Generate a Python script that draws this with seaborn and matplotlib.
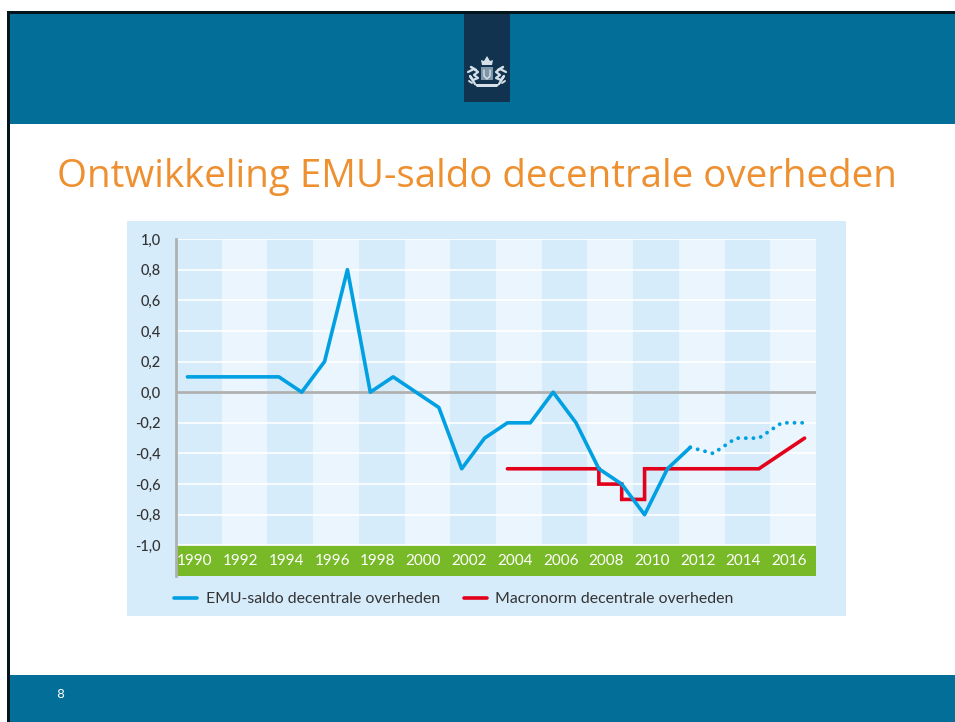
import matplotlib
matplotlib.use("Agg")
import matplotlib.pyplot as plt
from matplotlib.patches import Rectangle, Polygon
import seaborn as sns

years = list(range(1990, 2013))
emu_saldo = [0.1, 0.1, 0.1, 0.1, 0.1, 0.0, 0.2, 0.8, 0.0, 0.1, 0.0, -0.1, -0.5, -0.3,
             -0.2, -0.2, 0.0, -0.2, -0.5, -0.6, -0.8, -0.5, -0.36]
forecast_years = [2012, 2013, 2014, 2015, 2016, 2017]
emu_forecast = [-0.36, -0.4, -0.3, -0.3, -0.2, -0.2]
norm_years = [2004, 2008, 2008, 2009, 2009, 2010, 2010, 2015, 2017]
macronorm = [-0.5, -0.5, -0.6, -0.6, -0.7, -0.7, -0.5, -0.5, -0.3]
y_ticks = [1.0, 0.8, 0.6, 0.4, 0.2, 0.0, -0.2, -0.4, -0.6, -0.8, -1.0]
y_labels = ["1,0", "0,8", "0,6", "0,4", "0,2", "0,0", "-0,2", "-0,4", "-0,6", "-0,8", "-1,0"]
year_labels = list(range(1990, 2018, 2))

blue = "#00A0E2"
red = "#E3001B"

sns.set_style("white")
plt.rcParams["font.family"] = ["Lato", "DejaVu Sans"]

fig = plt.figure(figsize=(9.55, 7.22), dpi=100)

# slide background, in pixel coordinates
bg = fig.add_axes([0, 0, 1, 1])
bg.set_xlim(0, 955)
bg.set_ylim(722, 0)
bg.axis("off")
bg.add_patch(Rectangle((8, 12), 947, 112, color="#036E97", lw=0))
bg.add_patch(Rectangle((8, 675), 947, 47, color="#036E97", lw=0))
bg.add_patch(Rectangle((7, 11), 948, 3, color="#02141c", lw=0))
bg.add_patch(Rectangle((7, 11), 3, 711, color="#02141c", lw=0))
bg.add_patch(Rectangle((464, 14), 46, 88, color="#12334F", lw=0))
bg.add_patch(Rectangle((127, 221), 719, 395, color="#D7ECFB", lw=0))

# crest: crown, shield, a lion on each side, ribbon
crest = "#D5E0E8"
bg.add_patch(Polygon([(482, 65), (481, 60), (484, 61), (487, 56), (490, 61), (493, 60), (492, 65)], color=crest, lw=0))
bg.add_patch(Rectangle((481, 67), 12, 13, color="#7F95A8", lw=0))
bg.plot([484, 484, 487, 490, 490], [70, 76, 79, 76, 70], color=crest, lw=1)
for side in (-1, 1):
    bg.plot([487 + side * 19, 487 + side * 13, 487 + side * 9, 487 + side * 13, 487 + side * 9, 487 + side * 14,
             487 + side * 17, 487 + side * 12],
            [72, 69, 72, 75, 78, 80, 76, 84], color=crest, lw=1.6)
    bg.plot([487 + side * 16, 487 + side * 11], [67, 70], color=crest, lw=1.8)
    bg.plot([487 + side * 18, 487 + side * 15], [81, 83], color=crest, lw=1.4)
bg.add_patch(Polygon([(474, 84), (500, 84), (497, 87), (477, 87)], color=crest, lw=0))

bg.text(56.5, 187, "Ontwikkeling EMU-saldo decentrale overheden", color="#EE9030",
        fontsize=27.7, va="baseline", ha="left", family="Open Sans")
bg.text(60, 695, "8", color="white", fontsize=9, va="center", ha="center", family="DejaVu Sans")

# chart
ax = fig.add_axes([176 / 955, 1 - 576 / 722, 640 / 955, 337 / 722])
ax.patch.set_alpha(0)
ax.set_xlim(1989.5, 2017.5)
ax.set_ylim(-1.2, 1.0)
ax.set_axisbelow("line")

for i, y in enumerate(year_labels):
    ax.axvspan(y - 0.5, y + 1.5, color="#D7ECFB" if i % 2 == 0 else "#EAF5FD", lw=0, zorder=0)
ax.axhspan(-1.2, -1.0, color="#78B928", lw=0, zorder=1)
ax.grid(axis="y", color="white", lw=1.2)
ax.axhline(0, color="#B0B0B0", lw=2, zorder=2)

sns.lineplot(x=years, y=emu_saldo, ax=ax, color=blue, lw=2.6, label="EMU-saldo decentrale overheden",
             solid_joinstyle="round", solid_capstyle="round", zorder=4, errorbar=None, sort=False)
sns.lineplot(x=forecast_years, y=emu_forecast, ax=ax, color=blue, lw=2.8, zorder=4, errorbar=None,
             sort=False, linestyle=(0, (0.01, 1.95)), dash_capstyle="round")
sns.lineplot(x=norm_years, y=macronorm, ax=ax, color=red, lw=2.6, label="Macronorm decentrale overheden",
             solid_joinstyle="miter", solid_capstyle="round", zorder=3, errorbar=None, sort=False,
             estimator=None)

ax.set_yticks(y_ticks)
ax.set_yticklabels(y_labels, color="#333333", fontsize=10.5, fontweight="medium")
ax.set_xticks([y + 0.33 for y in year_labels])
ax.set_xticklabels(year_labels, color="white", fontsize=11)
ax.tick_params(axis="y", length=0, pad=11)
ax.tick_params(axis="x", length=0, pad=-16)

sns.despine(ax=ax, top=True, right=True, bottom=True)
ax.spines["left"].set_color("#B0B0B0")
ax.spines["left"].set_linewidth(2)

ax.legend(loc="center left", bbox_to_anchor=(174 / 955, 1 - 599 / 722), bbox_transform=fig.transFigure,
          ncol=2, frameon=False, fontsize=11.4, handlelength=1.45, handletextpad=0.55, columnspacing=1.5,
          labelcolor="#333333", borderpad=0, borderaxespad=0)

fig.savefig("out.png", dpi=100)
